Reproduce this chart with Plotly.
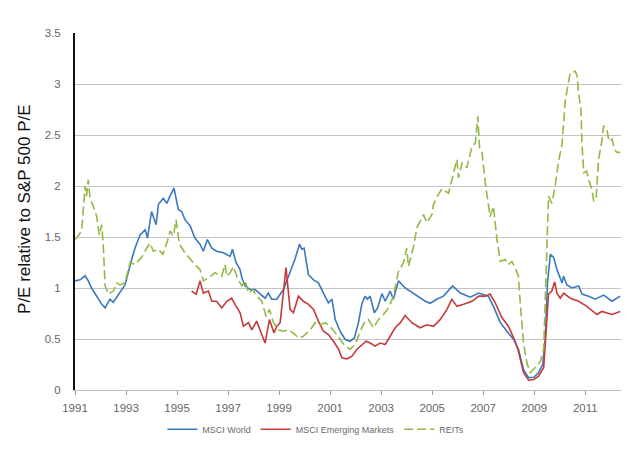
import plotly.graph_objects as go

# ---------------- data ----------------
world_x = [1991.0,1991.2,1991.4,1991.52,1991.65,1991.85,1992.05,1992.18,1992.37,1992.5,1992.76,1992.96,
           1993.22,1993.35,1993.55,1993.75,1993.84,1994.0,1994.18,1994.27,1994.46,1994.6,1994.72,1994.88,
           1995.05,1995.18,1995.31,1995.51,1995.7,1995.9,1996.03,1996.19,1996.36,1996.55,1996.82,1997.08,
           1997.17,1997.31,1997.47,1997.54,1997.67,1997.86,1998.06,1998.25,1998.45,1998.58,1998.71,1998.91,
           1999.04,1999.17,1999.37,1999.5,1999.63,1999.8,1999.89,1999.98,2000.15,2000.35,2000.54,2000.74,
           2000.93,2001.07,2001.2,2001.39,2001.59,2001.78,2001.95,2002.11,2002.24,2002.37,2002.46,2002.57,
           2002.73,2002.86,2003.03,2003.16,2003.35,2003.48,2003.68,2003.94,2004.33,2004.73,2004.92,2005.18,
           2005.44,2005.8,2006.1,2006.49,2006.82,2007.2,2007.4,2007.67,2007.93,2008.19,2008.38,2008.58,
           2008.78,2008.98,2009.17,2009.33,2009.43,2009.52,2009.63,2009.76,2009.89,2010.09,2010.15,2010.28,
           2010.48,2010.74,2010.87,2011.13,2011.39,2011.72,2012.05,2012.37]
world_y = [1.07,1.08,1.12,1.07,1.0,0.92,0.84,0.805,0.89,0.86,0.95,1.03,
           1.28,1.39,1.52,1.57,1.49,1.75,1.62,1.82,1.88,1.83,1.90,1.98,
           1.77,1.75,1.67,1.61,1.49,1.43,1.36,1.475,1.39,1.36,1.345,1.31,
           1.38,1.25,1.18,1.10,1.02,0.985,0.985,0.94,0.90,0.95,0.89,0.89,
           0.94,0.985,1.115,1.2,1.29,1.43,1.38,1.39,1.13,1.08,1.05,0.95,
           0.855,0.89,0.69,0.576,0.495,0.478,0.51,0.66,0.84,0.92,0.89,0.92,
           0.757,0.805,0.945,0.87,0.97,0.89,1.07,1.0,0.94,0.87,0.85,0.89,
           0.92,1.02,0.95,0.91,0.95,0.92,0.82,0.66,0.576,0.495,0.40,0.20,
           0.12,0.125,0.17,0.25,0.495,1.05,1.33,1.30,1.18,1.05,1.115,1.03,
           1.0,1.02,0.94,0.92,0.89,0.93,0.87,0.92]

em_x = [1995.57,1995.75,1995.9,1996.03,1996.23,1996.36,1996.55,1996.75,1996.95,1997.14,1997.27,1997.47,
        1997.6,1997.8,1997.93,1998.12,1998.32,1998.45,1998.62,1998.8,1998.91,1999.04,1999.14,1999.27,
        1999.43,1999.56,1999.76,1999.95,2000.15,2000.35,2000.54,2000.74,2000.93,2001.13,2001.33,2001.46,
        2001.65,2001.85,2002.05,2002.24,2002.41,2002.57,2002.76,2002.96,2003.16,2003.35,2003.55,2003.75,
        2003.94,2004.2,2004.53,2004.79,2005.05,2005.31,2005.58,2005.77,2005.97,2006.23,2006.56,2006.82,
        2007.08,2007.27,2007.47,2007.73,2007.99,2008.25,2008.38,2008.58,2008.78,2008.98,2009.17,2009.37,
        2009.47,2009.56,2009.69,2009.8,2009.89,2010.02,2010.15,2010.41,2010.74,2011.06,2011.46,2011.65,
        2012.05,2012.37]
em_y = [0.97,0.94,1.07,0.95,0.97,0.87,0.87,0.805,0.87,0.90,0.84,0.757,
        0.625,0.66,0.59,0.675,0.544,0.46,0.69,0.56,0.625,0.66,0.89,1.20,
        0.79,0.757,0.92,0.87,0.84,0.79,0.675,0.576,0.544,0.478,0.40,0.315,
        0.305,0.33,0.40,0.446,0.478,0.46,0.43,0.46,0.446,0.527,0.61,0.66,
        0.73,0.66,0.61,0.64,0.625,0.69,0.79,0.89,0.82,0.84,0.87,0.92,
        0.92,0.94,0.855,0.71,0.625,0.478,0.38,0.17,0.096,0.103,0.135,0.22,
        0.59,0.94,0.97,1.06,0.95,0.90,0.95,0.90,0.87,0.82,0.74,0.77,
        0.74,0.77]

reit_x = [1991.0,1991.07,1991.26,1991.4,1991.45,1991.52,1991.56,1991.6,1991.72,1991.85,1991.95,1992.05,
          1992.11,1992.18,1992.31,1992.5,1992.63,1992.76,1992.96,1993.16,1993.35,1993.61,1993.81,1993.94,
          1994.07,1994.27,1994.44,1994.6,1994.73,1994.86,1994.96,1995.09,1995.31,1995.51,1995.7,1995.9,
          1996.03,1996.23,1996.49,1996.75,1996.88,1996.95,1997.08,1997.21,1997.36,1997.54,1997.67,1997.8,
          1997.97,1998.12,1998.32,1998.49,1998.62,1998.78,1998.97,1999.17,1999.37,1999.63,1999.76,1999.95,
          2000.22,2000.41,2000.61,2000.8,2001.0,2001.2,2001.39,2001.59,2001.78,2001.98,2002.18,2002.37,
          2002.5,2002.7,2002.89,2003.09,2003.29,2003.48,2003.68,2003.87,2004.0,2004.07,2004.27,2004.4,
          2004.66,2004.79,2004.99,2005.05,2005.25,2005.38,2005.64,2005.84,2005.97,2006.03,2006.17,2006.36,
          2006.56,2006.69,2006.75,2006.79,2006.86,2006.95,2007.08,2007.21,2007.27,2007.4,2007.54,2007.67,
          2007.86,2007.99,2008.12,2008.25,2008.38,2008.45,2008.58,2008.71,2008.84,2009.04,2009.24,2009.37,
          2009.5,2009.56,2009.69,2009.82,2009.95,2010.09,2010.22,2010.35,2010.41,2010.61,2010.68,2010.74,
          2010.83,2010.87,2010.94,2011.06,2011.13,2011.26,2011.33,2011.43,2011.52,2011.65,2011.72,2011.85,
          2011.93,2012.05,2012.14,2012.24,2012.37]
reit_y = [1.48,1.49,1.56,2.0,1.9,2.06,1.95,1.87,1.80,1.70,1.52,1.62,
          1.41,1.02,0.94,0.97,1.05,1.03,1.05,1.25,1.23,1.30,1.39,1.44,
          1.36,1.38,1.33,1.44,1.56,1.51,1.67,1.43,1.345,1.28,1.23,1.18,
          1.07,1.10,1.15,1.115,1.23,1.115,1.15,1.21,1.10,1.02,1.07,0.95,
          0.985,0.92,0.87,0.72,0.79,0.66,0.59,0.576,0.59,0.544,0.51,0.527,
          0.59,0.66,0.64,0.66,0.625,0.56,0.495,0.43,0.40,0.446,0.576,0.675,
          0.69,0.61,0.69,0.74,0.805,0.92,1.165,1.245,1.39,1.21,1.41,1.59,
          1.72,1.64,1.72,1.82,1.92,1.97,1.93,2.145,2.26,2.08,2.23,2.18,
          2.39,2.42,2.55,2.68,2.36,2.33,2.03,1.80,1.70,1.80,1.475,1.26,
          1.28,1.23,1.26,1.20,1.115,0.855,0.46,0.267,0.17,0.22,0.28,0.40,
          1.38,1.90,1.83,2.0,2.24,2.41,2.85,3.01,3.11,3.125,3.08,2.91,
          2.75,2.42,2.13,2.145,2.06,1.97,1.85,1.90,2.26,2.44,2.59,2.55,
          2.44,2.46,2.36,2.33,2.33]

x_ticks = [1991, 1993, 1995, 1997, 1999, 2001, 2003, 2005, 2007, 2009, 2011]
y_ticks = [0, 0.5, 1, 1.5, 2, 2.5, 3, 3.5]
y_tick_text = ["0", "0.5", "1", "1.5", "2", "2.5", "3", "3.5"]

# ---------------- figure ----------------
# (the page body adds an 8px margin, so the figure is 8px smaller and shifted)
FONT = "Arial, Liberation Sans, sans-serif"
fig = go.Figure()
fig.add_trace(go.Scatter(x=world_x, y=world_y, mode="lines", name="MSCI World",
                         line=dict(color="#3B78C0", width=1.6)))
fig.add_trace(go.Scatter(x=em_x, y=em_y, mode="lines", name="MSCI Emerging Markets",
                         line=dict(color="#C63A3A", width=1.6)))
fig.add_trace(go.Scatter(x=reit_x, y=reit_y, mode="lines", name="REITs",
                         line=dict(color="#93B844", width=1.6, dash="9px,4px")))

fig.update_layout(
    width=634, height=448,
    margin=dict(l=67, r=21, t=25, b=66),
    paper_bgcolor="white", plot_bgcolor="white",
    font=dict(family=FONT, color="#666666"),
    showlegend=True,
    legend=dict(orientation="h", x=0.16, xanchor="left", y=-0.11, yanchor="middle",
                font=dict(size=9, color="#6a6a6a"), itemwidth=30, bgcolor="rgba(0,0,0,0)"),
    xaxis=dict(range=[1991, 2012.4], tickmode="array", tickvals=x_ticks,
               showgrid=False, zeroline=False, showline=True, linecolor="#BDBDBD", linewidth=1,
               ticks="outside", ticklen=4, tickcolor="#9a9a9a", tickwidth=1,
               tickfont=dict(size=11.5, color="#666666"), ticklabelstandoff=3),
    yaxis=dict(range=[0, 3.5], tickmode="array", tickvals=y_ticks, ticktext=y_tick_text,
               showgrid=True, gridcolor="#C4C4C4", gridwidth=1, zeroline=False,
               showline=True, linecolor="#111111", linewidth=2, ticks="",
               tickfont=dict(size=11.5, color="#666666"), ticklabelstandoff=10),
    annotations=[dict(text="P/E relative to S&P 500 P/E", xref="paper", yref="paper",
                      x=-0.093, y=0.505, xanchor="center", yanchor="middle", textangle=-90,
                      showarrow=False, font=dict(size=17, color="#111111", family=FONT))],
)

fig.write_html("out.html")
